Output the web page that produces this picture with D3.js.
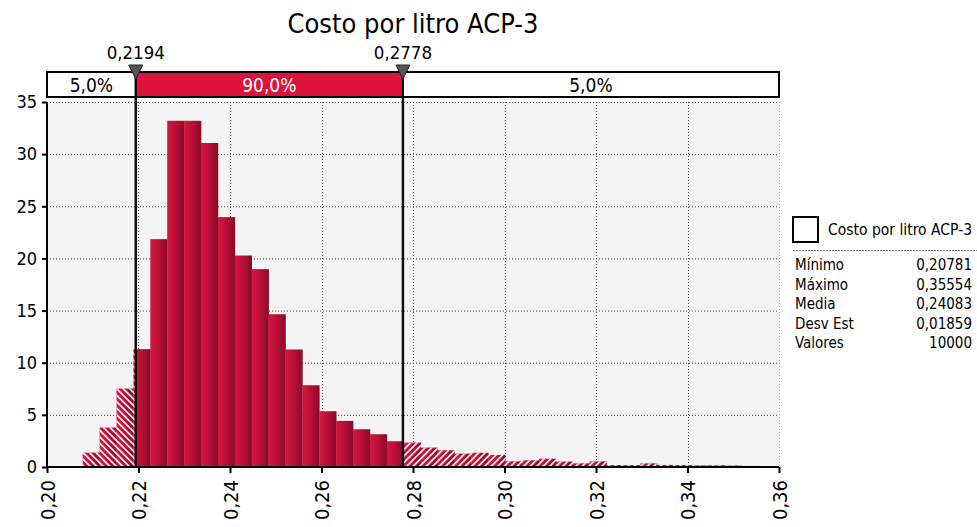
<!DOCTYPE html>
<html>
<head>
<meta charset="utf-8">
<script src="https://cdn.jsdelivr.net/npm/d3@7"></script>
<style>
  body { margin: 0; background: #fff; }
  svg text { font-family: "DejaVu Sans Condensed", "DejaVu Sans", sans-serif; }
</style>
</head>
<body>
<svg id="MyGraph" width="977" height="527"></svg>
<script>
// histogram: 40 bins between min and max, heights (density)
var binMin = 0.20781, binMax = 0.35554, binCount = 40;
var densities = [1.38, 3.78, 7.52, 11.3, 21.85, 33.2, 33.2, 31.07, 23.96, 20.28,
                 18.97, 14.65, 11.27, 7.84, 5.35, 4.42, 3.62, 3.14, 2.47, 2.34,
                 1.86, 1.6, 1.28, 1.36, 1.16, 0.54, 0.64, 0.8, 0.52, 0.35,
                 0.54, 0.18, 0.18, 0.35, 0.2, 0.18, 0.15, 0.16, 0.14, 0.1];
var cutLow = 0.2194, cutHigh = 0.2778;
var cutLabels = ["0,2194", "0,2778"];
var shareLabels = ["5,0%", "90,0%", "5,0%"];
var xTicks = [0.20, 0.22, 0.24, 0.26, 0.28, 0.30, 0.32, 0.34, 0.36];
var yTicks = [0, 5, 10, 15, 20, 25, 30, 35];
var statNames = ["Mínimo", "Máximo", "Media", "Desv Est", "Valores"];
var statValues = ["0,20781", "0,35554", "0,24083", "0,01859", "10000"];
var title = "Costo por litro ACP-3";

var svg = d3.select("#MyGraph");
var crimson = "#dc143c";

var x = d3.scaleLinear().domain([0.20, 0.36]).range([47, 779]);
var y = d3.scaleLinear().domain([0, 35]).range([467, 102]);
var fmt = function(v) { return d3.format(".2f")(v).replace(".", ","); };

var binW = (binMax - binMin) / binCount;
var bins = densities.map(function(d, i) {
  return { x0: binMin + i * binW, x1: binMin + (i + 1) * binW, v: d };
});

var defs = svg.append("defs");
var grad = defs.append("linearGradient").attr("id", "barGrad")
    .attr("x1", "0%").attr("x2", "100%").attr("y1", "0%").attr("y2", "0%");
grad.append("stop").attr("offset", "0%").attr("stop-color", "#d3173f");
grad.append("stop").attr("offset", "45%").attr("stop-color", "#bb1037");
grad.append("stop").attr("offset", "100%").attr("stop-color", "#880a25");

function hatch(id, angle) {
  var p = defs.append("pattern").attr("id", id)
      .attr("patternUnits", "userSpaceOnUse")
      .attr("width", 4.6).attr("height", 4.6)
      .attr("patternTransform", "rotate(" + angle + ")");
  p.append("rect").attr("x", 0).attr("y", 0).attr("width", 1.6).attr("height", 4.6)
      .attr("fill", "#fff");
}
hatch("hatchL", -45);
hatch("hatchR", 45);

function clip(id, a, b) {
  defs.append("clipPath").attr("id", id).append("rect")
      .attr("x", a).attr("y", 0).attr("width", b - a).attr("height", 527);
}
clip("clipL", x(0.20), x(cutLow));
clip("clipM", x(cutLow), x(cutHigh));
clip("clipR", x(cutHigh), x(0.36));

// plot background
svg.append("rect")
    .attr("x", x(0.20)).attr("y", y(35))
    .attr("width", x(0.36) - x(0.20)).attr("height", y(0) - y(35))
    .attr("fill", "#f4f4f4");

// grid
var grid = svg.append("g").attr("stroke", "#444").attr("stroke-width", 1)
    .attr("stroke-dasharray", "1,2");
grid.selectAll("line.h").data(yTicks.slice(1)).enter().append("line")
    .attr("x1", x(0.20)).attr("x2", x(0.36))
    .attr("y1", function(d) { return y(d) + 0.5; })
    .attr("y2", function(d) { return y(d) + 0.5; });
grid.selectAll("line.v").data(xTicks.slice(1)).enter().append("line")
    .attr("y1", y(35)).attr("y2", y(0))
    .attr("x1", function(d) { return Math.round(x(d)) + 0.5; })
    .attr("x2", function(d) { return Math.round(x(d)) + 0.5; })
    .attr("stroke", function(d) { return d === 0.36 ? "#aaa" : null; });

// bars
function drawBars(clipId, pattern) {
  var g = svg.append("g").attr("clip-path", "url(#" + clipId + ")");
  g.selectAll("rect.bar").data(bins).enter().append("rect")
      .attr("class", "bar")
      .attr("x", function(d) { return x(d.x0); })
      .attr("y", function(d) { return y(d.v); })
      .attr("width", function(d) { return x(d.x1) - x(d.x0) + 0.3; })
      .attr("height", function(d) { return y(0) - y(d.v); })
      .attr("fill", "url(#barGrad)");
  if (pattern) {
    g.selectAll("rect.hatch").data(bins).enter().append("rect")
        .attr("class", "hatch")
        .attr("x", function(d) { return x(d.x0); })
        .attr("y", function(d) { return y(d.v); })
        .attr("width", function(d) { return x(d.x1) - x(d.x0) + 0.3; })
        .attr("height", function(d) { return y(0) - y(d.v); })
        .attr("fill", "url(#" + pattern + ")");
  }
}
drawBars("clipL", "hatchL");
drawBars("clipM", null);
drawBars("clipR", "hatchR");

// axes
var yAxis = svg.append("g").attr("transform", "translate(" + x(0.20) + ",0)")
    .call(d3.axisLeft(y).tickValues(yTicks).tickSize(5).tickPadding(5)
      .tickFormat(d3.format("d")));
var xAxis = svg.append("g").attr("transform", "translate(0," + y(0) + ")")
    .call(d3.axisBottom(x).tickValues(xTicks).tickSize(6).tickFormat(fmt));
[yAxis, xAxis].forEach(function(a) {
  a.select(".domain").attr("stroke", "#000").attr("stroke-width", 2);
  a.selectAll(".tick line").attr("stroke", "#000").attr("stroke-width", 2);
  a.selectAll("text").attr("fill", "#000").style("font-size", "18px");
});
xAxis.select(".domain").attr("d", "M" + x(0.20) + ",0H" + x(0.36));
yAxis.select(".domain").attr("d", "M0," + y(35) + "V" + y(0));
xAxis.selectAll(".tick text")
    .style("font-size", "20px")
    .attr("transform", "rotate(-90)")
    .attr("text-anchor", "end")
    .attr("x", -13).attr("y", 0).attr("dy", "0.35em");

// cutoff lines
svg.selectAll("line.cut").data([cutLow, cutHigh]).enter().append("line")
    .attr("class", "cut")
    .attr("x1", function(d) { return x(d); }).attr("x2", function(d) { return x(d); })
    .attr("y1", 78).attr("y2", y(0))
    .attr("stroke", "#111").attr("stroke-width", 2.5);

// top band
var band = svg.append("g");
var segs = [[0.20, cutLow], [cutLow, cutHigh], [cutHigh, 0.36]];
band.selectAll("rect").data(segs).enter().append("rect")
    .attr("x", function(d) { return x(d[0]); }).attr("y", 72)
    .attr("width", function(d) { return x(d[1]) - x(d[0]); }).attr("height", 25)
    .attr("fill", function(d, i) { return i === 1 ? crimson : "#fff"; })
    .attr("stroke", "#000").attr("stroke-width", 2);
band.selectAll("text").data(segs).enter().append("text")
    .attr("x", function(d) { return (x(d[0]) + x(d[1])) / 2; }).attr("y", 91.5)
    .attr("text-anchor", "middle").style("font-size", "19px")
    .attr("fill", function(d, i) { return i === 1 ? "#fff" : "#000"; })
    .text(function(d, i) { return shareLabels[i]; });

// markers
var marks = svg.selectAll("g.mark").data([cutLow, cutHigh]).enter().append("g")
    .attr("class", "mark")
    .attr("transform", function(d) { return "translate(" + x(d) + ",0)"; });
marks.append("path").attr("d", "M-7,65L7,65L0,79Z")
    .attr("fill", "#555").attr("stroke", "#222").attr("stroke-width", 1);
marks.append("text").attr("y", 59).attr("text-anchor", "middle")
    .style("font-size", "18.5px")
    .text(function(d, i) { return cutLabels[i]; });

// title
svg.append("text").attr("x", 413).attr("y", 33).attr("text-anchor", "middle")
    .style("font-size", "27px").text(title);

// legend
var lg = svg.append("g");
lg.append("rect").attr("x", 793).attr("y", 217).attr("width", 25).attr("height", 25)
    .attr("fill", "#fff").attr("stroke", "#000").attr("stroke-width", 2);
lg.append("text").attr("x", 828).attr("y", 235).style("font-size", "15.5px").text(title);
lg.append("line").attr("x1", 793).attr("x2", 977).attr("y1", 250.5).attr("y2", 250.5)
    .attr("stroke", "#777").attr("stroke-dasharray", "2,1");
lg.selectAll("text.sn").data(statNames).enter().append("text").attr("class", "sn")
    .attr("x", 795).attr("y", function(d, i) { return 270 + i * 19.6; })
    .style("font-size", "15px").text(function(d) { return d; });
lg.selectAll("text.sv").data(statValues).enter().append("text").attr("class", "sv")
    .attr("x", 972).attr("y", function(d, i) { return 270 + i * 19.6; })
    .attr("text-anchor", "end")
    .style("font-size", "15px").text(function(d) { return d; });
</script>
</body>
</html>
